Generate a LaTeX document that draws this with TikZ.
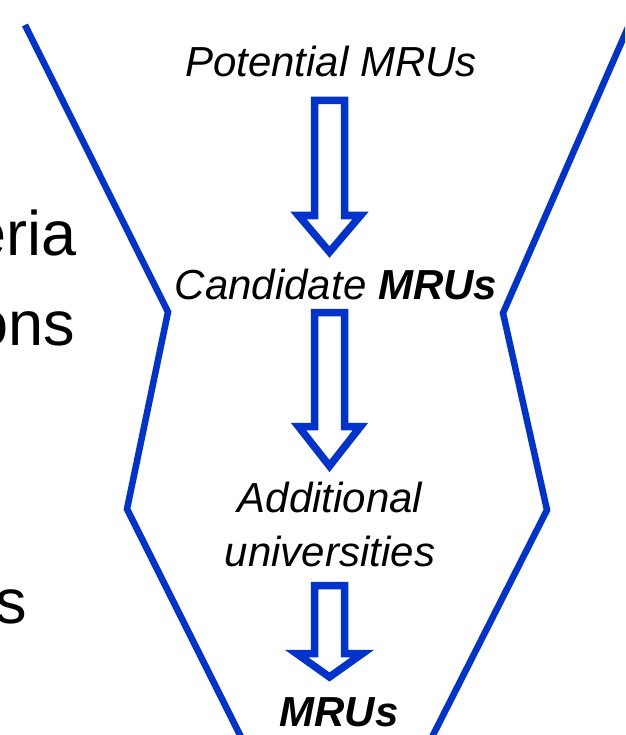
\documentclass[tikz,border=0pt]{standalone}
\usepackage{fontspec}
\setmainfont{Liberation Sans}
\usetikzlibrary{calc}
\definecolor{funnelblue}{RGB}{0,51,204}
\tikzset{
  funnelline/.style={line width=6.5pt, color=funnelblue, line join=miter},
  arrowline/.style={line width=7.5pt, color=funnelblue, line join=miter},
  stagetext/.style={anchor=base, inner sep=0pt, font=\fontsize{42}{48}\selectfont\itshape},
  sidetext/.style={anchor=base east, inner sep=0pt, font=\fontsize{63}{70}\selectfont}
}
\def\hollowarrow(#1:#2:#3:#4:#5){\draw[arrowline] (#1-15,#2) -- (#1+15,#2) -- (#1+15,#3) -- (#1+#5,#3) -- (#1,#4) -- (#1-#5,#3) -- (#1-15,#3) -- cycle;}

\begin{document}
\begin{tikzpicture}[x=1pt,y=-1pt]
			%%%%% START %%%%%
			\useasboundingbox (0,0) rectangle (625,735);
			\clip (0,0) rectangle (625,735);
			
			% text cut off at the left
			\node[sidetext] (eria) at (77, 255) {eria};
			\node[sidetext] (ons) at (75, 345) {ons};
			\node[sidetext] (s) at (27, 623) {s};
			
			% funnel
			\draw[funnelline] (25, 25) -- (168, 312) -- (127, 509) -- (245, 745);
			\draw[funnelline] (640, 0) -- (503, 313) -- (547, 510) -- (428, 745);
			
			% stages
			\node[stagetext] (potential) at (331, 77) {Potential MRUs};
			\node[stagetext] (candidate) at (336, 299) {Candidate \textbf{MRUs}};
			\node[stagetext] (additional) at (330, 512) {Additional};
			\node[stagetext] (universities) at (330, 566) {universities};
			\node[stagetext] (mrus) at (339, 726) {\textbf{MRUs}};
			
			\hollowarrow(329.5:100.5:215.5:252:31)
			\hollowarrow(329.5:312.5:426.5:466:31)
			\hollowarrow(329.5:585.5:653.5:677:33)
			
			%%%%% END %%%%%
		\end{tikzpicture}
\end{document}
